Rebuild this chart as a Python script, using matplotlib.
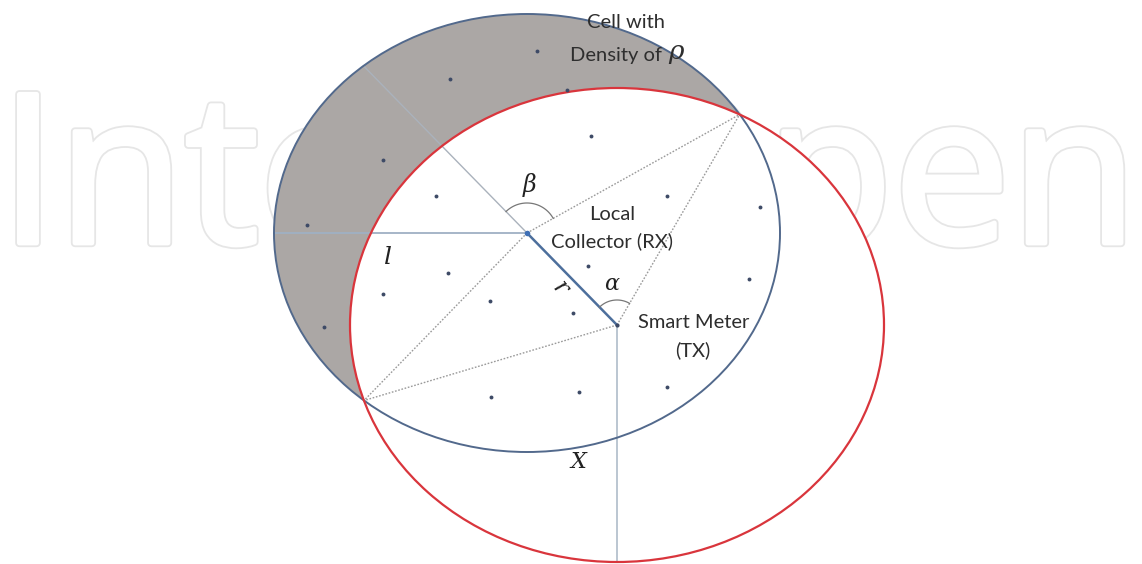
import numpy as np
import matplotlib.pyplot as plt
from matplotlib import patheffects
from matplotlib.patches import Ellipse

W, H = 1142, 564

# geometry, pixel units with y pointing down
rx_pos = (527, 233)        # local collector (RX), centre of the cell
tx_pos = (617, 325)        # smart meter (TX)
cell_axes = (253, 219)     # blue cell ellipse half-axes
range_axes = (267, 237)    # red ellipse half-axes, centred on TX

meters_x = [537, 450, 567, 383, 307, 324, 591, 436, 667, 760,
            448, 588, 383, 490, 573, 749, 491, 579, 667]
meters_y = [51, 79, 90, 160, 225, 327, 136, 196, 196, 207,
            273, 266, 294, 301, 313, 279, 397, 392, 387]

text_font = ['Lato', 'DejaVu Sans']
sym_font = ['DejaVu Serif']


def ellipse_pts(c, ab, n=4000):
    t = np.linspace(0, 2 * np.pi, n)
    return c[0] + ab[0] * np.cos(t), c[1] + ab[1] * np.sin(t)


def ellipse_val(x, y, c, ab):
    return ((x - c[0]) / ab[0]) ** 2 + ((y - c[1]) / ab[1]) ** 2


def arc(center, p1, p2, r):
    a1 = np.arctan2(p1[1] - center[1], p1[0] - center[0])
    a2 = np.arctan2(p2[1] - center[1], p2[0] - center[0])
    d = (a2 - a1 + np.pi) % (2 * np.pi) - np.pi
    t = np.linspace(a1, a1 + d, 60)
    return center[0] + r * np.cos(t), center[1] + r * np.sin(t)


# where the two ellipses cross
ex, ey = ellipse_pts(tx_pos, range_axes)
f = ellipse_val(ex, ey, rx_pos, cell_axes) - 1
idx = np.where(np.diff(np.sign(f)) != 0)[0]
cross = sorted([(ex[i], ey[i]) for i in idx], key=lambda p: p[1])
top_pt, low_pt = cross[0], cross[-1]

# ray from RX away from TX up to the cell edge
dx, dy = rx_pos[0] - tx_pos[0], rx_pos[1] - tx_pos[1]
t_edge = 1 / np.sqrt((dx / cell_axes[0]) ** 2 + (dy / cell_axes[1]) ** 2)
ray_end = (rx_pos[0] + dx * t_edge, rx_pos[1] + dy * t_edge)

fig = plt.figure(figsize=(W / 100, H / 100), dpi=100)
ax = fig.add_axes([0, 0, 1, 1])
ax.set_xlim(0, W)
ax.set_ylim(H, 0)
ax.axis('off')

# faint outlined watermark behind everything (fattened with strokes)
ax.text(-1, 243, 'IntechOpen', fontsize=150, family=['Open Sans'],
        color='white', ha='left', va='baseline', zorder=0,
        path_effects=[patheffects.Stroke(linewidth=6.0, foreground='#e6e6e6'),
                      patheffects.Stroke(linewidth=3.4, foreground='white'),
                      patheffects.Normal()])

ax.add_patch(Ellipse(rx_pos, 2 * cell_axes[0], 2 * cell_axes[1],
                     facecolor='#aba7a5', edgecolor='none', zorder=1))
ax.add_patch(Ellipse(tx_pos, 2 * range_axes[0], 2 * range_axes[1],
                     facecolor='white', edgecolor='none', zorder=2))
ax.add_patch(Ellipse(rx_pos, 2 * cell_axes[0], 2 * cell_axes[1],
                     facecolor='none', edgecolor='#52698c', lw=1.4, zorder=4))
ax.add_patch(Ellipse(tx_pos, 2 * range_axes[0], 2 * range_axes[1],
                     facecolor='none', edgecolor='#d9353c', lw=1.6, zorder=5))

# construction lines
ax.plot([rx_pos[0] - cell_axes[0], rx_pos[0]], [rx_pos[1], rx_pos[1]],
        color='#9fb0c4', lw=1.3, zorder=3)
ax.plot([ray_end[0], rx_pos[0]], [ray_end[1], rx_pos[1]],
        color='#aab2bc', lw=1.0, zorder=3)
ax.plot([tx_pos[0], tx_pos[0]], [tx_pos[1], tx_pos[1] + range_axes[1]],
        color='#b5c1ce', lw=1.3, zorder=3)
for p in (rx_pos, tx_pos):
    for q in (top_pt, low_pt):
        ax.plot([p[0], q[0]], [p[1], q[1]], color='#9a9a9a', lw=1.0,
                ls=(0, (1.2, 1.2)), zorder=3)
ax.plot([rx_pos[0], tx_pos[0]], [rx_pos[1], tx_pos[1]],
        color='#4d6f9c', lw=1.8, zorder=6)

bx, by = arc(rx_pos, ray_end, top_pt, 30)
ax.plot(bx, by, color='#777777', lw=0.9, zorder=6)
axx, axy = arc(tx_pos, rx_pos, top_pt, 25)
ax.plot(axx, axy, color='#777777', lw=0.9, zorder=6)

ax.plot(meters_x, meters_y, 'o', ms=2.8, color='#3d4a66', mec='none', zorder=7)
ax.plot(*rx_pos, 'o', ms=4, color='#3f6fb5', mec='none', zorder=7)
ax.plot(*tx_pos, 'o', ms=3, color='#3d4a66', mec='none', zorder=7)

# labels
lab = dict(family=text_font, fontsize=14.5, color='#2e2e2e', ha='center', va='center', zorder=8)
ax.text(626, 23, 'Cell with', **lab)
ax.text(662, 56, 'Density of', **{**lab, 'ha': 'right'})
ax.text(668, 52, 'ρ', family=sym_font, style='italic', fontsize=19, color='#2e2e2e',
        ha='left', va='center', zorder=8)
ax.text(612, 215, 'Local', **lab)
ax.text(612, 241, 'Collector (RX)', **lab)
ax.text(694, 323, 'Smart Meter', **lab)
ax.text(693, 350, '(TX)', **lab)

sym = dict(family=sym_font, style='italic', color='#222222', ha='center', va='center', zorder=8)
ax.text(530, 185, 'β', fontsize=17, **sym)
ax.text(612, 284, 'α', fontsize=16, **sym)
ax.text(560, 288, 'r', fontsize=17, rotation=-50, **sym)
ax.text(388, 258, 'l', fontsize=18, **sym)
ax.text(578, 462, 'X', fontsize=16, **sym)

fig.savefig('out.png', dpi=100)
